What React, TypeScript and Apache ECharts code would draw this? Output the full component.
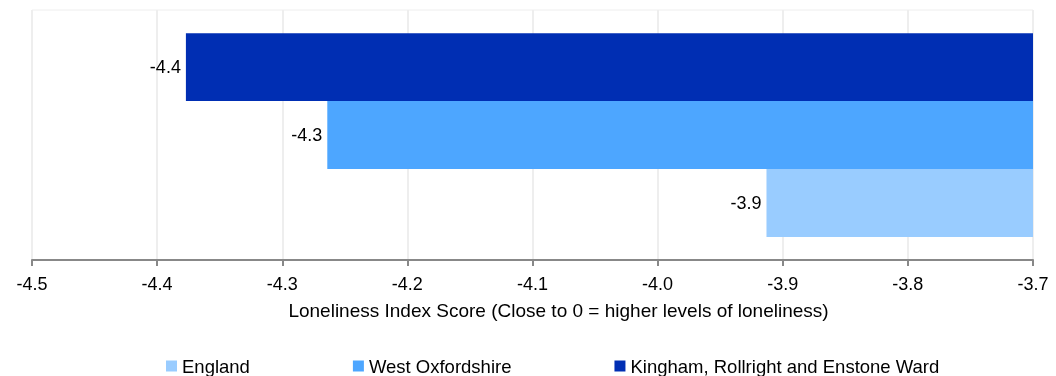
import React, { useEffect, useRef } from "react";
import * as echarts from "echarts";

const categories = ["Loneliness"];
const seriesNames = ["England", "West Oxfordshire", "Kingham, Rollright and Enstone Ward"];
const englandValues = [-3.913];
const westOxfordshireValues = [-4.264];
const kinghamValues = [-4.377];
const seriesColors = ["#99CCFF", "#4DA6FF", "#002EB3"];
const axisName = "Loneliness Index Score (Close to 0 = higher levels of loneliness)";

export default function App() {
  const ref = useRef<HTMLDivElement>(null);
  useEffect(() => {
    if (!ref.current) return;
    const chart = echarts.init(ref.current, null, { renderer: "svg" });
    const values = [englandValues, westOxfordshireValues, kinghamValues];
    const font = "Arial, 'Liberation Sans', sans-serif";
    const fs = 18;
    // series drawn top-to-bottom: Kingham, West Oxfordshire, England
    const order = [2, 1, 0];
    chart.setOption({
      animation: false,
      textStyle: { fontFamily: font },
      grid: {
        left: 32,
        right: 23,
        top: 10,
        bottom: 116,
        show: true,
        borderColor: "#eeeeee",
        borderWidth: 1,
      },
      legend: {
        left: 161,
        top: 351,
        itemWidth: 11,
        itemHeight: 11,
        itemGap: 103,
        icon: "rect",
        textStyle: { fontSize: 18.5, color: "#000", fontFamily: font, lineHeight: 20 },
        data: seriesNames,
      },
      xAxis: {
        type: "value",
        min: -4.5,
        max: -3.7,
        interval: 0.1,
        name: axisName,
        nameLocation: "middle",
        nameGap: 41,
        nameTextStyle: { fontSize: 19, color: "#000", padding: [0, 0, 0, 52] },
        axisLine: { show: true, lineStyle: { color: "#888", width: 2 } },
        axisTick: { show: true, length: 6, lineStyle: { color: "#888", width: 2 } },
        axisLabel: {
          fontSize: fs,
          color: "#000",
          margin: 15,
          formatter: (v: number) => v.toFixed(1),
        },
        splitLine: { show: true, lineStyle: { color: "#eeeeee", width: 2 } },
      },
      yAxis: {
        type: "category",
        data: categories,
        axisLine: { show: false },
        axisTick: { show: false },
        axisLabel: { show: false },
        splitLine: { show: false },
      },
      series: order.map((i) => ({
        name: seriesNames[i],
        type: "bar",
        data: values[i],
        clip: true,
        barGap: "0%",
        barCategoryGap: "18.5%",
        itemStyle: { color: seriesColors[i] },
        label: {
          show: true,
          position: "left",
          distance: 5,
          fontSize: fs,
          color: "#000",
          formatter: (p: any) => Number(p.value).toFixed(1),
        },
      })),
    });
    return () => chart.dispose();
  }, []);
  return (
    <div
      ref={ref}
      style={{ position: "fixed", left: 0, top: 0, width: 1056, height: 376 }}
    />
  );
}
